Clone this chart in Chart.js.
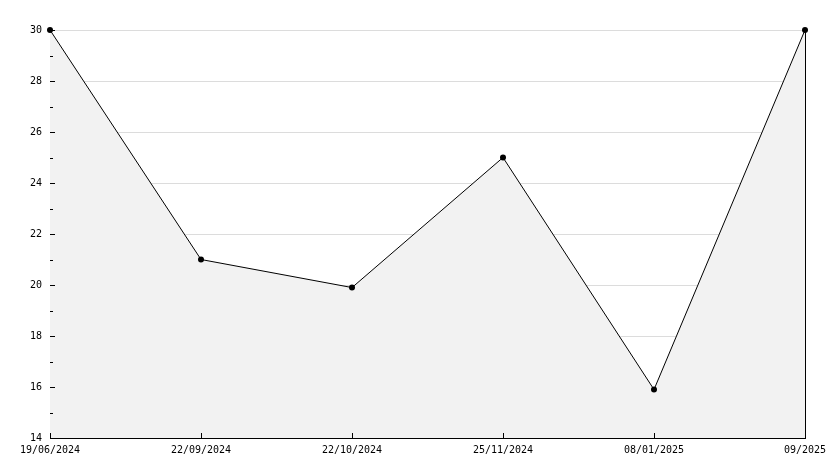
<!DOCTYPE html>
<html>
<head>
<meta charset="utf-8">
<script src="https://cdn.jsdelivr.net/npm/chart.js@4/dist/chart.umd.min.js"></script>
<style>
  html, body { margin: 0; padding: 0; background: #fff; }
  #wrap { width: 834px; height: 468px; }
</style>
</head>
<body>
<div id="wrap"><canvas id="chart" width="834" height="468"></canvas></div>
<script>
// data
var dateLabels = ['19/06/2024', '22/09/2024', '22/10/2024', '25/11/2024', '08/01/2025', '09/2025'];
var values = [30, 21, 19.9, 25, 15.9, 30];
var yMin = 14;
var yMax = 30;

// short ticks drawn inward + right border, like the original
var innerTicks = {
    id: 'innerTicks',
    beforeDatasetsDraw: function (chart) {
        var ctx = chart.ctx;
        var area = chart.chartArea;
        var x = chart.scales.x;
        var y = chart.scales.y;
        ctx.save();
        ctx.strokeStyle = '#000';
        ctx.lineWidth = 1;
        ctx.beginPath();
        var rx = Math.round(area.right) + 0.5;
        ctx.moveTo(rx, area.top);
        ctx.lineTo(rx, area.bottom);
        ctx.stroke();
        ctx.restore();
    },
    afterDatasetsDraw: function (chart) {
        var ctx = chart.ctx;
        var area = chart.chartArea;
        var x = chart.scales.x;
        var y = chart.scales.y;
        ctx.save();
        ctx.strokeStyle = '#000';
        ctx.lineWidth = 1;
        ctx.beginPath();
        for (var v = yMin; v <= yMax; v++) {
            var py = Math.round(y.getPixelForValue(v)) + 0.5;
            var len = (v % 2 === 0) ? 5 : 3;
            ctx.moveTo(area.left, py);
            ctx.lineTo(area.left + len, py);
        }
        for (var i = 0; i < dateLabels.length; i++) {
            var px = Math.round(x.getPixelForValue(i)) + 0.5;
            ctx.moveTo(px, area.bottom);
            ctx.lineTo(px, area.bottom - 5);
        }
        ctx.stroke();
        ctx.restore();
    }
};

Chart.defaults.font.family = '"DejaVu Sans Mono", monospace';
Chart.defaults.font.size = 10;
Chart.defaults.color = '#000';

new Chart(document.getElementById('chart').getContext('2d'), {
    type: 'line',
    data: {
        labels: dateLabels,
        datasets: [{
            data: values,
            borderColor: '#000',
            borderWidth: 1,
            backgroundColor: '#f2f2f2',
            fill: 'start',
            tension: 0,
            clip: false,
            pointRadius: 3,
            pointBackgroundColor: '#000',
            pointBorderColor: '#000',
            pointBorderWidth: 0
        }]
    },
    options: {
        responsive: false,
        animation: false,
        layout: { padding: { top: 30, right: 29, left: 0, bottom: 0 } },
        plugins: { legend: { display: false }, tooltip: { enabled: false } },
        scales: {
            x: {
                offset: false,
                grid: { display: false, drawTicks: false },
                border: { color: '#000', width: 1 },
                ticks: { maxRotation: 0, autoSkip: false, padding: 6 },
                afterFit: function (s) { s.height = 30; }
            },
            y: {
                min: yMin,
                max: yMax,
                grid: {
                    drawTicks: false,
                    color: function (c) { return (c.tick && c.tick.value % 2 === 0) ? '#dcdcdc' : 'rgba(0,0,0,0)'; }
                },
                border: { color: '#000', width: 1 },
                ticks: {
                    stepSize: 1,
                    padding: 8,
                    callback: function (v) { return v % 2 === 0 ? v : ''; }
                },
                afterFit: function (s) { s.width = 50; }
            }
        }
    },
    plugins: [innerTicks]
});
</script>
</body>
</html>
